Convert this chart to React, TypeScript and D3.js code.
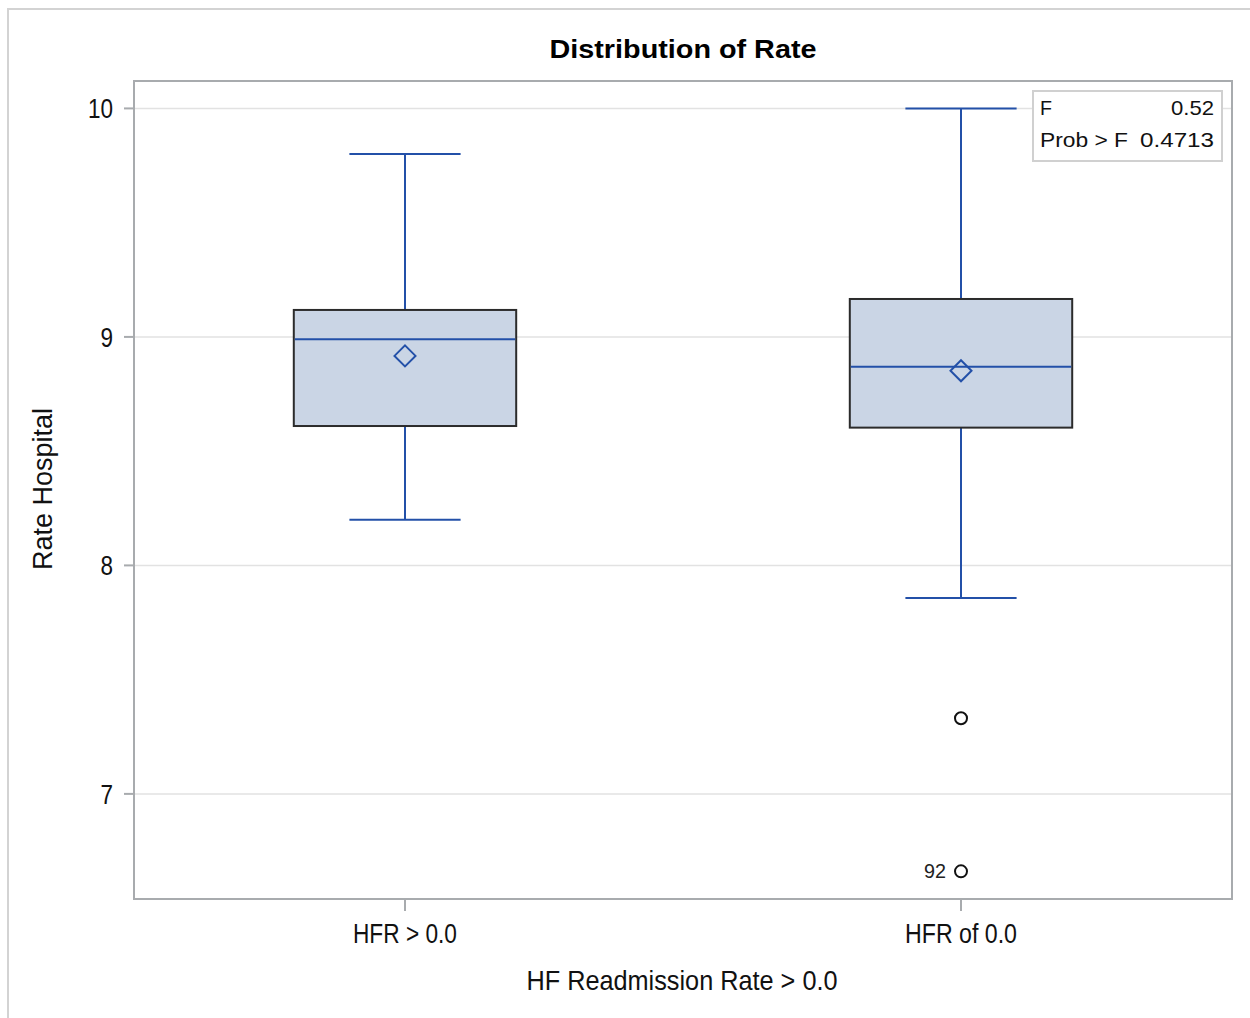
import * as d3 from 'd3';

// box plot summary per group
const categories = ['HFR > 0.0', 'HFR of 0.0'];
const q1 = [8.61, 8.603];
const median = [8.99, 8.869];
const q3 = [9.118, 9.166];
const mean = [8.917, 8.852];
const whiskerLow = [8.2, 7.857];
const whiskerHigh = [9.8, 10.0];
const outliers = [
  { group: 'HFR of 0.0', value: 7.331, label: '' },
  { group: 'HFR of 0.0', value: 6.661, label: '92' },
];
const yTicks = [7, 8, 9, 10];
const statRows = [
  { name: 'F', value: '0.52' },
  { name: 'Prob > F', value: '0.4713' },
];

const FONT = "'Liberation Sans', Arial, sans-serif";
const BLUE = '#2350A8';

const W = 1250;
const H = 1018;
const plot = { left: 134, right: 1232, top: 81, bottom: 899 };

// the SAS font is narrow, so squeeze text to the widths seen in the picture
const fit = (len: number) => ({ textLength: len, lengthAdjust: 'spacingAndGlyphs' as const });
const catWidth: Record<string, number> = { 'HFR > 0.0': 104, 'HFR of 0.0': 112 };
const statWidth: Record<string, number> = { F: 12, 'Prob > F': 88, '0.52': 43, '0.4713': 74 };

const App = () => {
  const x = d3
    .scalePoint<string>()
    .domain(categories)
    .range([plot.left, plot.right])
    .padding(0.4874);
  const y = d3.scaleLinear().domain([6.54, 10.12]).range([plot.bottom, plot.top]);

  const boxW = x.step() * 0.4;
  const capW = boxW / 2;
  const dm = 10.5;

  return (
    <svg
      width={W}
      height={H}
      style={{ position: 'absolute', left: 0, top: 0, background: '#fff' }}
      fontFamily={FONT}
    >
      {/* outer frame (only left and top visible) */}
      <rect x={8} y={9} width={W + 20} height={H + 20} fill="#fff" stroke="#d3d3d3" strokeWidth={2} />

      <text x={683} y={58} textAnchor="middle" fontSize={26.5} fontWeight="bold" fill="#000" {...fit(267)}>
        Distribution of Rate
      </text>

      {/* grid */}
      {yTicks.map(t => (
        <line key={'g' + t} x1={plot.left} x2={plot.right} y1={y(t)} y2={y(t)} stroke="#e2e2e2" strokeWidth={1.5} />
      ))}

      {/* boxes */}
      {categories.map((c, i) => {
        const cx = x(c) as number;
        const ym = y(mean[i]);
        return (
          <g key={c}>
            <line x1={cx} x2={cx} y1={y(q3[i])} y2={y(whiskerHigh[i])} stroke={BLUE} strokeWidth={2} />
            <line x1={cx} x2={cx} y1={y(q1[i])} y2={y(whiskerLow[i])} stroke={BLUE} strokeWidth={2} />
            <line x1={cx - capW / 2} x2={cx + capW / 2} y1={y(whiskerHigh[i])} y2={y(whiskerHigh[i])} stroke={BLUE} strokeWidth={2} />
            <line x1={cx - capW / 2} x2={cx + capW / 2} y1={y(whiskerLow[i])} y2={y(whiskerLow[i])} stroke={BLUE} strokeWidth={2} />
            <rect
              x={cx - boxW / 2}
              y={y(q3[i])}
              width={boxW}
              height={y(q1[i]) - y(q3[i])}
              fill="#cad5e5"
              stroke="#2b2b2b"
              strokeWidth={2}
            />
            <line x1={cx - boxW / 2 + 1} x2={cx + boxW / 2 - 1} y1={y(median[i])} y2={y(median[i])} stroke={BLUE} strokeWidth={2} />
            <path
              d={`M${cx},${ym - dm}L${cx + dm},${ym}L${cx},${ym + dm}L${cx - dm},${ym}Z`}
              fill="none"
              stroke={BLUE}
              strokeWidth={2}
            />
          </g>
        );
      })}

      {/* outliers */}
      {outliers.map((o, i) => {
        const cx = x(o.group) as number;
        return (
          <g key={'o' + i}>
            <circle cx={cx} cy={y(o.value)} r={6} fill="none" stroke="#111" strokeWidth={2} />
            {o.label && (
              <text x={cx - 15} y={y(o.value) + 7} textAnchor="end" fontSize={19.5} fill="#222" {...fit(22)}>
                {o.label}
              </text>
            )}
          </g>
        );
      })}

      {/* stats inset */}
      <rect x={1033} y={91} width={189} height={70} fill="#fff" stroke="#d0d0d0" strokeWidth={2} />
      {statRows.map((r, i) => (
        <g key={r.name}>
          <text x={1040} y={115 + i * 32} fontSize={21} fill="#111" {...fit(statWidth[r.name])}>
            {r.name}
          </text>
          <text x={1214} y={115 + i * 32} fontSize={21} textAnchor="end" fill="#111" {...fit(statWidth[r.value])}>
            {r.value}
          </text>
        </g>
      ))}

      {/* frame */}
      <rect
        x={plot.left}
        y={plot.top}
        width={plot.right - plot.left}
        height={plot.bottom - plot.top}
        fill="none"
        stroke="#a8abae"
        strokeWidth={2}
      />

      {/* y axis */}
      {yTicks.map(t => (
        <g key={'y' + t}>
          <line x1={plot.left - 10} x2={plot.left} y1={y(t)} y2={y(t)} stroke="#a8abae" strokeWidth={2} />
          <text
            x={113}
            y={y(t) + 10}
            textAnchor="end"
            fontSize={28}
            fill="#111"
            {...fit(String(t).length * 12.5)}
          >
            {t}
          </text>
        </g>
      ))}
      <text transform="translate(52,489) rotate(-90)" textAnchor="middle" fontSize={27} fill="#111" {...fit(162)}>
        Rate Hospital
      </text>

      {/* x axis */}
      {categories.map(c => (
        <g key={'x' + c}>
          <line x1={x(c)} x2={x(c)} y1={plot.bottom} y2={plot.bottom + 12} stroke="#a8abae" strokeWidth={2} />
          <text x={x(c)} y={943} textAnchor="middle" fontSize={27} fill="#111" {...fit(catWidth[c])}>
            {c}
          </text>
        </g>
      ))}
      <text x={682} y={990} textAnchor="middle" fontSize={27.5} fill="#111" {...fit(311)}>
        HF Readmission Rate &gt; 0.0
      </text>
    </svg>
  );
};

export default App;
